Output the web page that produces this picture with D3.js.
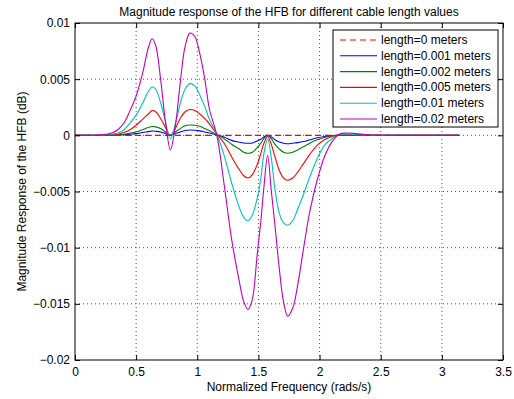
<!DOCTYPE html>
<html>
<head>
<meta charset="utf-8">
<script src="https://cdn.jsdelivr.net/npm/d3@7"></script>
<style>
  body { margin: 0; background: #fff; }
  svg { display: block; font-family: "Liberation Sans", Arial, sans-serif; }
</style>
</head>
<body>
<div id="chart"></div>
<script>
// frequency samples (rads/s)
var freq = [0, 0.1, 0.2, 0.25, 0.3, 0.35, 0.4, 0.45, 0.5, 0.55, 0.6,
  0.63, 0.66, 0.7, 0.74, 0.78, 0.82, 0.86, 0.9, 0.94, 0.98, 1.02,
  1.06, 1.1, 1.16, 1.22, 1.28, 1.34, 1.38, 1.415, 1.45, 1.49, 1.52,
  1.545, 1.575, 1.605, 1.635, 1.67, 1.705, 1.74, 1.78, 1.82, 1.87, 1.92,
  1.98, 2.04, 2.1, 2.16, 2.22, 2.3, 2.4, 2.6, 2.8, 3.0, 3.1416]

var freq0 = [0, 3.1416]
var len0 = [0, 0]

var len001 = [0, 0, 0, 0, 0.00001, 0.00002, 0.00005, 0.0001, 0.00015, 0.00025, 0.00033,
  0.00038, 0.00036, 0.0003, 0.00015, 0, 0.00015, 0.0003, 0.00043, 0.00047, 0.00045, 0.0004,
  0.0003, 0.0002, 0.00003, -0.00015, -0.00045, -0.0006, -0.00068, -0.0007, -0.00068, -0.0005, -0.00035,
  -0.00015, 0, -0.00015, -0.0004, -0.0006, -0.0007, -0.00075, -0.0007, -0.00065, -0.00055, -0.0004,
  -0.00022, -0.0001, -0.00003, 0, 0.00001, 0, 0, 0, 0, 0, 0]

var len002 = [0, 0, 0, 0.00001, 0.00002, 0.00005, 0.0001, 0.0002, 0.0003, 0.0005, 0.0007,
  0.00078, 0.00075, 0.0006, 0.0003, 0, 0.0003, 0.0006, 0.00085, 0.00092, 0.0009, 0.0008,
  0.0006, 0.0004, 0.00005, -0.0003, -0.0008, -0.0012, -0.0015, -0.0016, -0.0015, -0.0011, -0.0007,
  -0.0003, 0, -0.0003, -0.0008, -0.0012, -0.0015, -0.0016, -0.0015, -0.0013, -0.001, -0.0007,
  -0.0004, -0.0002, -0.00005, 0.00001, 0.00002, 0.00001, 0, 0, 0, 0, 0]

var len005 = [0, 0, 0.00001, 0.00002, 0.00005, 0.0001, 0.00025, 0.0005, 0.0009, 0.0014, 0.0019,
  0.0022, 0.0021, 0.0015, 0.0007, 0, 0.0006, 0.0015, 0.0021, 0.0023, 0.0022, 0.0019,
  0.0015, 0.001, 0.0001, -0.0007, -0.0019, -0.003, -0.0036, -0.0038, -0.0035, -0.0026, -0.0016,
  -0.0007, -0.0001, -0.0008, -0.0019, -0.0031, -0.0038, -0.004, -0.0038, -0.0033, -0.0025, -0.0017,
  -0.0009, -0.0004, -0.0001, 0.00003, 0.00005, 0.00003, 0.00001, 0, 0, 0, 0]

var len01 = [0, 0, 0.00002, 0.00005, 0.0001, 0.0002, 0.0005, 0.0011, 0.0018, 0.0028, 0.0039,
  0.0043, 0.0041, 0.0029, 0.0012, -0.0003, 0.001, 0.0028, 0.0041, 0.0046, 0.0044, 0.0036,
  0.0026, 0.0014, 0.0001, -0.0018, -0.0042, -0.0063, -0.0073, -0.0076, -0.0071, -0.0056, -0.0038,
  -0.0016, -0.0003, -0.002, -0.0048, -0.0069, -0.0078, -0.008, -0.0076, -0.0066, -0.0052, -0.0037,
  -0.0021, -0.0009, -0.0003, 0.00005, 0.0001, 0.00008, 0.00003, 0, 0, 0, 0]

var len02 = [0, 0, 0.00003, 0.0001, 0.0002, 0.0005, 0.0011, 0.0022, 0.0035, 0.0054, 0.0078,
  0.0086, 0.008, 0.005, 0.0012, -0.0013, 0.0008, 0.0046, 0.0079, 0.0091, 0.0088, 0.0073,
  0.0051, 0.0023, 0, -0.0044, -0.0092, -0.0128, -0.0148, -0.0155, -0.0146, -0.0106, -0.0076,
  -0.0046, -0.0018, -0.0049, -0.008, -0.0118, -0.0148, -0.0161, -0.0154, -0.0134, -0.01, -0.0068,
  -0.004, -0.0019, -0.0006, 0.0001, 0.0002, 0.00015, 0.00005, 0, 0, 0, 0]

var legendLabels = ["length=0 meters", "length=0.001 meters", "length=0.002 meters",
  "length=0.005 meters", "length=0.01 meters", "length=0.02 meters"]
var colors = ["#ff0000", "#0000ff", "#008000", "#ff0000", "#00bfbf", "#bf00bf"]

var xTicks = [0, 0.5, 1, 1.5, 2, 2.5, 3, 3.5]
var xTickLabels = ["0", "0.5", "1", "1.5", "2", "2.5", "3", "3.5"]
var yTicks = [0.01, 0.005, 0, -0.005, -0.01, -0.015, -0.02]
var yTickLabels = ["0.01", "0.005", "0", "\u22120.005", "\u22120.01", "\u22120.015", "\u22120.02"]

var series = [
  {x: freq0, y: len0},
  {x: freq, y: len001},
  {x: freq, y: len002},
  {x: freq, y: len005},
  {x: freq, y: len01},
  {x: freq, y: len02}
]

var W = 514, H = 399
var margin = {top: 23, right: 11, bottom: 39, left: 75}
var width = W - margin.left - margin.right
var height = H - margin.top - margin.bottom
var fs = 12

var svg = d3.select("#chart").append("svg")
  .attr("width", W)
  .attr("height", H)

svg.append("rect").attr("width", W).attr("height", H).attr("fill", "#fff")

var g = svg.append("g")
  .attr("transform", "translate(" + margin.left + "," + margin.top + ")")

var x = d3.scaleLinear().domain([0, 3.5]).range([0, width])
var y = d3.scaleLinear().domain([-0.02, 0.01]).range([height, 0])

// grid (dotted)
g.append("g").selectAll("line").data(xTicks.slice(1, -1)).enter().append("line")
  .attr("x1", d => x(d)).attr("x2", d => x(d))
  .attr("y1", 0).attr("y2", height)
  .attr("stroke", "#555").attr("stroke-width", 1).attr("stroke-dasharray", "1,3")
g.append("g").selectAll("line").data(yTicks.slice(1, -1)).enter().append("line")
  .attr("x1", 0).attr("x2", width)
  .attr("y1", d => y(d)).attr("y2", d => y(d))
  .attr("stroke", "#555").attr("stroke-width", 1).attr("stroke-dasharray", "1,3")

var line = d3.line()
  .x(d => x(d[0]))
  .y(d => y(d[1]))
  .curve(d3.curveCatmullRom.alpha(0.5))

var plotG = g.append("g")
// solid curves first, the zero-length dashed line on top
for (var i = 1; i < series.length; i++) {
  var pts = series[i].x.map((v, k) => [v, series[i].y[k]])
  plotG.append("path")
    .attr("d", line(pts))
    .attr("fill", "none")
    .attr("stroke", colors[i])
    .attr("stroke-width", 1.1)
}
plotG.append("path")
  .attr("d", line(series[0].x.map((v, k) => [v, series[0].y[k]])))
  .attr("fill", "none")
  .attr("stroke", colors[0])
  .attr("stroke-width", 1.1)
  .attr("stroke-dasharray", "6,4")

// axes with inward ticks on all sides
var tl = 5
g.append("g").attr("transform", "translate(0," + height + ")")
  .call(d3.axisBottom(x).tickValues(xTicks).tickFormat((d, i) => xTickLabels[i]).tickSizeInner(-tl).tickSizeOuter(0).tickPadding(7))
g.append("g")
  .call(d3.axisTop(x).tickValues(xTicks).tickFormat("").tickSizeInner(-tl).tickSizeOuter(0))
g.append("g")
  .call(d3.axisLeft(y).tickValues(yTicks).tickFormat((d, i) => yTickLabels[i]).tickSizeInner(-tl).tickSizeOuter(0).tickPadding(5))
g.append("g").attr("transform", "translate(" + width + ",0)")
  .call(d3.axisRight(y).tickValues(yTicks).tickFormat("").tickSizeInner(-tl).tickSizeOuter(0))

g.selectAll(".domain").remove()
g.selectAll(".tick text").attr("font-size", fs).attr("fill", "#000")
  .style("font-family", "'Liberation Sans', Arial, sans-serif")
g.selectAll(".tick line").attr("stroke", "#000")

g.append("rect")
  .attr("width", width).attr("height", height)
  .attr("fill", "none").attr("stroke", "#000").attr("stroke-width", 1)

// labels
svg.append("text")
  .attr("x", margin.left + width / 2).attr("y", 16)
  .attr("text-anchor", "middle").attr("font-size", fs)
  .text("Magnitude response of the HFB for different cable length values")
svg.append("text")
  .attr("x", margin.left + width / 2).attr("y", 391)
  .attr("text-anchor", "middle").attr("font-size", fs)
  .text("Normalized Frequency (rads/s)")
svg.append("text")
  .attr("transform", "translate(26," + (margin.top + height / 2) + ") rotate(-90)")
  .attr("text-anchor", "middle").attr("font-size", fs)
  .text("Magnitude Response of the HFB (dB)")

// legend
var lg = svg.append("g").attr("transform", "translate(333,30)")
lg.append("rect")
  .attr("width", 165).attr("height", 97)
  .attr("fill", "#fff").attr("stroke", "#000").attr("stroke-width", 1)
legendLabels.forEach(function(lab, i) {
  var yy = 10 + i * 15.8
  lg.append("line")
    .attr("x1", 7).attr("x2", 44).attr("y1", yy).attr("y2", yy)
    .attr("stroke", colors[i]).attr("stroke-width", 1.1)
    .attr("stroke-dasharray", i == 0 ? "6,4" : null)
  lg.append("text")
    .attr("x", 48).attr("y", yy + 4)
    .attr("font-size", fs)
    .text(lab)
})
</script>
</body>
</html>
